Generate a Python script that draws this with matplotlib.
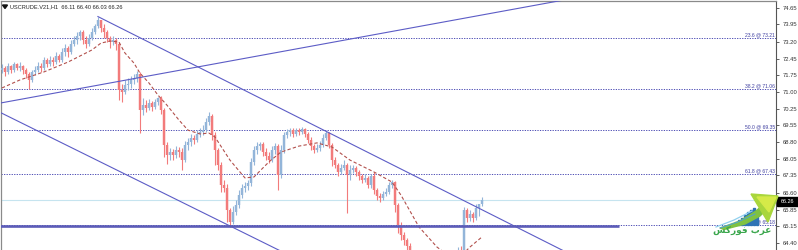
import matplotlib
matplotlib.use("Agg")
import matplotlib.pyplot as plt
from matplotlib.patches import Polygon, Rectangle
import numpy as np

# ---------------- data (USCRUDE H1) ----------------
symbol_title = "USCRUDE.V21,H1  66.11 66.40 66.03 66.26"
first_open = 71.95
highs = [72.22, 72.13, 72.26, 72.17, 72.30, 72.26, 72.30, 72.17, 72.04, 71.87,
         71.95, 72.13, 72.30, 72.26, 72.52, 72.48, 72.56, 72.52, 72.74, 72.65,
         72.91, 73.09, 73.00, 73.26, 73.44, 73.61, 73.70, 73.70, 73.44, 73.53,
         73.79, 73.96, 74.27, 74.14, 73.96, 73.70, 73.44, 73.44, 73.35, 73.18,
         71.34, 71.52, 71.60, 71.69, 71.78, 71.91, 71.87, 70.73, 70.64, 70.69,
         70.60, 70.69, 70.77, 70.82, 70.29, 68.81, 68.55, 68.50, 68.63, 68.59,
         68.55, 68.85, 68.98, 69.16, 69.11, 69.33, 69.42, 69.55, 69.86, 70.12,
         70.03, 69.25, 68.55, 67.94, 67.15, 66.97, 65.93, 66.01, 66.28, 66.71,
         66.97, 67.06, 67.15, 68.11, 68.63, 68.81, 68.81, 68.81, 68.55, 68.37,
         68.63, 68.77, 68.72, 68.68, 69.25, 69.38, 69.42, 69.42, 69.42, 69.42,
         69.46, 69.42, 69.25, 69.03, 68.72, 68.72, 68.85, 69.16, 69.29, 69.25,
         68.77, 68.15, 67.89, 67.85, 68.02, 67.89, 67.80, 67.80, 67.76, 67.59,
         67.41, 67.41, 67.32, 67.41, 67.50, 66.80, 66.58, 66.67, 66.80, 67.06,
         67.15, 67.11, 66.15, 65.32, 64.88, 64.62, 64.40, 64.01, 63.74, 63.44,
         63.39, 63.31, 63.31, 63.22, 63.22, 63.31, 63.44, 63.57, 63.74, 63.83,
         63.92, 64.01, 64.22, 64.27, 65.97, 65.93, 65.84, 65.75, 66.10, 66.06,
         66.40]
lows = [71.82, 71.69, 71.78, 71.82, 71.87, 71.95, 71.91, 71.78, 71.60, 71.12,
        71.43, 71.73, 71.87, 71.87, 71.95, 72.08, 72.13, 72.13, 72.22, 72.30,
        72.30, 72.56, 72.52, 72.65, 73.00, 73.09, 73.26, 73.09, 72.91, 73.00,
        73.26, 73.53, 73.79, 73.61, 73.35, 73.18, 72.91, 73.05, 72.83, 70.64,
        70.56, 70.90, 71.08, 71.17, 71.34, 71.43, 69.20, 69.99, 70.12, 70.21,
        70.16, 70.25, 70.42, 70.03, 68.15, 67.85, 68.02, 68.02, 68.11, 68.15,
        67.59, 67.94, 68.46, 68.63, 68.72, 68.81, 69.03, 69.11, 69.25, 69.55,
        68.90, 67.80, 67.59, 66.63, 66.63, 65.32, 65.10, 65.23, 65.62, 65.93,
        66.36, 66.63, 66.71, 66.89, 67.80, 68.29, 68.46, 68.20, 68.02, 67.89,
        67.94, 68.29, 66.71, 67.24, 68.33, 68.98, 69.07, 69.03, 69.07, 69.11,
        69.16, 69.03, 68.77, 68.46, 68.33, 68.37, 68.42, 68.59, 68.90, 68.55,
        67.76, 67.67, 67.32, 67.41, 67.59, 65.71, 67.15, 67.45, 67.32, 67.15,
        67.02, 67.06, 66.80, 66.80, 66.54, 66.28, 66.19, 66.28, 66.45, 66.54,
        66.80, 65.75, 64.84, 64.53, 64.31, 64.09, 63.66, 63.39, 63.13, 62.96,
        63.00, 62.78, 62.87, 62.69, 62.78, 62.91, 63.09, 63.22, 63.31, 63.48,
        63.57, 63.66, 63.74, 63.83, 63.92, 65.32, 65.36, 65.32, 65.40, 65.58,
        66.03]
closes = [72.04, 71.87, 72.13, 71.95, 72.22, 72.04, 72.13, 71.95, 71.78, 71.52,
          71.87, 71.95, 72.13, 72.04, 72.39, 72.22, 72.39, 72.30, 72.56, 72.39,
          72.74, 72.91, 72.74, 73.09, 73.26, 73.44, 73.61, 73.26, 73.09, 73.35,
          73.61, 73.87, 74.14, 73.79, 73.61, 73.35, 73.18, 73.26, 73.09, 71.08,
          70.99, 71.30, 71.34, 71.52, 71.60, 71.78, 70.21, 70.42, 70.29, 70.51,
          70.34, 70.56, 70.73, 70.21, 68.68, 68.24, 68.37, 68.24, 68.46, 68.37,
          68.02, 68.68, 68.81, 68.98, 68.90, 69.16, 69.25, 69.33, 69.68, 69.94,
          69.11, 68.46, 67.80, 66.93, 66.80, 65.84, 65.32, 65.75, 66.06, 66.49,
          66.80, 66.89, 67.02, 67.94, 68.46, 68.63, 68.72, 68.37, 68.20, 68.02,
          68.46, 68.63, 67.37, 68.46, 69.11, 69.25, 69.33, 69.16, 69.33, 69.25,
          69.38, 69.16, 68.90, 68.63, 68.46, 68.55, 68.68, 68.98, 69.20, 68.68,
          68.02, 67.80, 67.50, 67.67, 67.80, 67.37, 67.59, 67.67, 67.50, 67.32,
          67.15, 67.24, 66.93, 67.32, 66.71, 66.45, 66.36, 66.54, 66.63, 66.93,
          67.06, 66.06, 65.18, 64.75, 64.53, 64.27, 63.87, 63.57, 63.31, 63.13,
          63.22, 63.00, 63.13, 62.87, 63.04, 63.22, 63.31, 63.39, 63.57, 63.66,
          63.74, 63.83, 64.09, 64.01, 65.84, 65.49, 65.67, 65.49, 65.93, 66.11,
          66.26]

# moving average (dashed) read at selected bars
ma_idx = [0, 6, 14, 22, 30, 33, 36, 39, 41, 44, 46, 49, 52, 55, 59, 62, 66, 69,
          71, 76, 81, 84, 89, 93, 99, 105, 110, 116, 124, 130, 133, 139, 145,
          149, 153, 156, 160]
ma_vals = [71.17, 71.52, 71.87, 72.30, 72.83, 73.13, 73.22, 73.18, 72.70, 72.26,
           71.82, 71.39, 70.86, 70.42, 69.77, 69.33, 69.16, 69.20, 69.03, 68.02,
           67.24, 67.28, 67.94, 68.37, 68.63, 68.77, 68.59, 68.02, 67.50, 67.06,
           66.49, 65.10, 64.22, 63.83, 63.83, 64.22, 64.66]

# Fibonacci levels
fib_levels = [73.34, 71.11, 69.33, 67.40, 65.19]
fib_labels = ["23.6 @ 73.21", "38.2 @ 71.06", "50.0 @ 69.35", "61.8 @ 67.43", "100.0 @ 65.18"]

# trend lines (bar index, price) anchors
trend_up = ([-1, 188], [70.50, 75.03])
channel_top = ([32, 190], [74.29, 63.87])
channel_bottom = ([-1, 95], [70.13, 63.91])
support_level = 65.14
support_span = [-1, 205.7]
last_price = 66.26
last_price_label = "66.26"

ytick_vals = [74.65, 73.95, 73.20, 72.45, 71.75, 71.00, 70.25, 69.55,
              68.80, 68.05, 67.35, 66.60, 65.85, 65.15, 64.40]
ytick_labels = ["74.65", "73.95", "73.20", "72.45", "71.75", "71.00", "70.25", "69.55",
                "68.80", "68.05", "67.35", "66.60", "65.85", "65.15", "64.40"]

logo_text = "\ufeb2\ufedb\ufead\ufeee\ufed3 \ufe8f\ufeae\ufecb"  # "عرب فوركس" shaped, visual order

# ---------------- figure ----------------
W, H = 798, 250
fig = plt.figure(figsize=(W / 100, H / 100), dpi=100)
fig.patch.set_facecolor("white")
ax = fig.add_axes([1 / W, 0, 775 / W, 249 / H])
ax.set_facecolor("white")
ax.set_xlim(-0.3, 258.0)
ax.set_ylim(64.09, 74.97)

n = len(closes)
xs = np.arange(n)
opens = np.array([first_open] + closes[:-1])
cl = np.array(closes)
hi = np.maximum(np.array(highs), np.maximum(opens, cl))
lo = np.minimum(np.array(lows), np.minimum(opens, cl))
up = cl >= opens
BLUE = "#93b5d9"
RED = "#f27b7b"
cols = np.where(up, BLUE, RED)

# background lines
ax.axhline(last_price, color="#c6e4ef", lw=0.8, zorder=1)
for lv in fib_levels:
    ax.axhline(lv, color="#4f4fb5", lw=0.7, ls=(0, (1.3, 1.3)), zorder=2)

# candles
ax.vlines(xs, lo, hi, colors=cols, lw=0.8, zorder=3)
body_lo = np.minimum(opens, cl)
body_hi = np.maximum(opens, cl)
body_hi = np.where(body_hi - body_lo < 0.02, body_lo + 0.02, body_hi)
ax.vlines(xs, body_lo, body_hi, colors=cols, lw=1.75, zorder=3)

# moving average
ax.plot(ma_idx, ma_vals, color="#b2504c", lw=0.8, ls=(0, (3, 2)), zorder=4)

# trend lines
for tl in (trend_up, channel_top, channel_bottom):
    ax.plot(tl[0], tl[1], color="#5c5cc6", lw=0.8, zorder=5)
ax.plot(support_span, [support_level, support_level], color="#5c5cb8", lw=1.9, zorder=5,
        solid_capstyle="butt")

# fib labels
for lv, lb in zip(fib_levels, fib_labels):
    ax.text(257.6, lv + 0.04, lb, ha="right", va="bottom", fontsize=3.6,
            color="#3f3fa0", family="Liberation Sans", zorder=6)

# axes styling
ax.spines["bottom"].set_visible(False)
for s in ("top", "left"):
    ax.spines[s].set_color("#8a8a8a")
    ax.spines[s].set_linewidth(0.9)
ax.spines["right"].set_color("#555555")
ax.spines["right"].set_linewidth(0.8)
ax.set_xticks([])
ax.yaxis.tick_right()
ax.set_yticks(ytick_vals)
ax.set_yticklabels(ytick_labels)
ax.tick_params(axis="y", direction="out", length=2.5, width=0.6, colors="#444444",
               labelsize=4.2, pad=2.5)
for t in ax.get_yticklabels():
    t.set_family("Liberation Sans")
    t.set_color("#333333")

# ---------------- overlay (title, price box, logo) ----------------
ov = fig.add_axes([0, 0, 1, 1], zorder=10)
ov.set_xlim(0, W)
ov.set_ylim(H, 0)
ov.axis("off")
ov.patch.set_alpha(0)

ov.add_patch(Polygon([[2.5, 5], [7.5, 5], [5, 8.5]], closed=True, color="#111111"))
ov.text(10, 7.2, symbol_title, fontsize=4.1, family="Liberation Sans", color="#222222",
        ha="left", va="center")

ov.add_patch(Rectangle((777, 197), 21, 8.5, color="#000000"))
ov.text(787.5, 201.3, last_price_label, fontsize=4.0, family="Liberation Sans",
        color="white", ha="center", va="center")

# logo: light swoosh, blue bars, green arrow, arabic text
ov.plot([716, 734, 752], [227, 220, 211], color="#8fd0ee", lw=0.9)
ov.plot([720, 738, 755], [228, 222, 214], color="#4e9fd6", lw=0.7)
bar_x = [735, 738, 741, 744, 747, 750, 753, 756]
bar_top = [222, 220, 218, 215, 212, 210, 208, 211]
for bx, bt in zip(bar_x, bar_top):
    ov.add_patch(Rectangle((bx, bt), 2, 225 - bt, color="#2f73b5"))
ov.add_patch(Polygon([[720, 228], [740, 221], [756, 211], [764, 204], [768, 208],
                      [760, 216], [745, 224], [724, 229.5]], closed=True, color="#7fc241"))
ov.add_patch(Polygon([[751, 194], [778, 196], [768, 222]], closed=True, color="#a9d63c"))
ov.add_patch(Polygon([[757, 197], [776, 197], [769, 212]], closed=True, color="#d5ea48"))
ov.text(742, 231.5, logo_text, fontsize=6.5, family="DejaVu Sans", color="#3aa64c",
        ha="center", va="center", fontweight="bold")

fig.savefig("out.png", dpi=100)
